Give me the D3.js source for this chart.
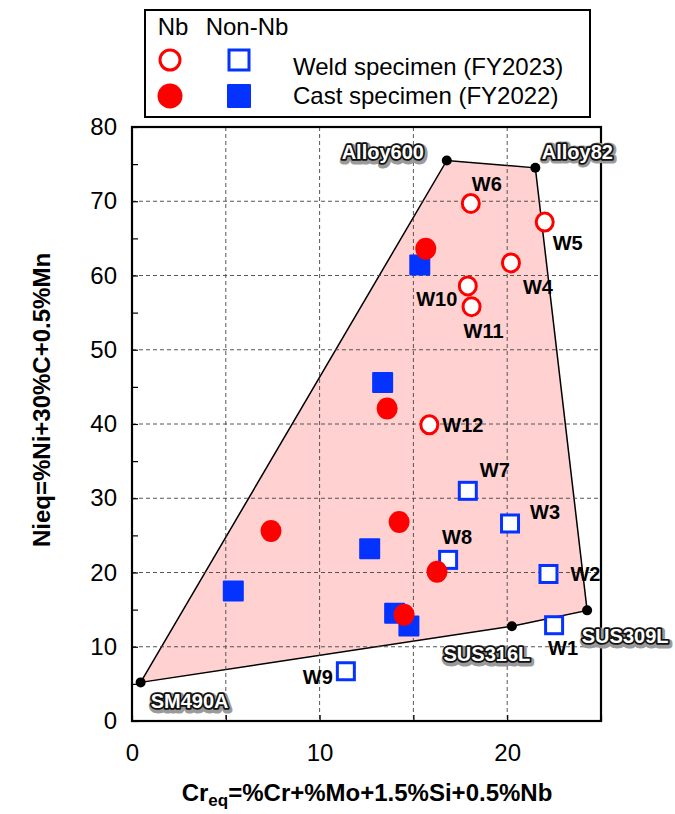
<!DOCTYPE html>
<html>
<head>
<meta charset="utf-8">
<script src="https://cdn.jsdelivr.net/npm/d3@7"></script>
<style>
  body { margin: 0; background: #fff; }
  text { font-family: "Liberation Sans", Arial, sans-serif; }
</style>
</head>
<body>
<script>
let width = 675;
let height = 814;
let svg = d3.select("body").append("svg")
                           .attr("width", width)
                           .attr("height", height);

// reference materials, polygon corners in drawing order
let refNames = ["SM490A", "Alloy600", "Alloy82", "SUS309L", "SUS316L"];
let refCr = [0.46, 16.78, 21.5, 24.26, 20.25];
let refNi = [5.2, 75.5, 74.5, 14.9, 12.76];
let refLabelDx = [49, -64, 42, 38, -25];
let refLabelDy = [26, -1, -9, 33, 35];

// weld specimens (FY2023), Nb bearing -> open circles
let weldNbNames = ["W4", "W5", "W6", "W10", "W11", "W12"];
let weldNbCr = [20.2, 22.0, 18.06, 17.9, 18.1, 15.85];
let weldNbNi = [61.7, 67.2, 69.7, 58.6, 55.8, 39.9];

// weld specimens (FY2023), non-Nb -> open squares
let weldNonNbNames = ["W1", "W2", "W3", "W7", "W8", "W9"];
let weldNonNbCr = [22.5, 22.2, 20.15, 17.9, 16.85, 11.4];
let weldNonNbNi = [12.9, 19.8, 26.6, 31.0, 21.7, 6.7];

// cast specimens (FY2022)
let castNbCr = [15.66, 13.6, 7.41, 14.24, 16.26, 14.5];
let castNbNi = [63.6, 42.1, 25.6, 26.8, 20.1, 14.3];
let castNonNbCr = [15.34, 13.36, 5.4, 12.67, 14.0, 14.76];
let castNonNbNi = [61.4, 45.6, 17.5, 23.2, 14.5, 12.8];

// label offsets (pixels) for the W labels
let wLabelOffsets = {
  W1: [9, 30], W2: [22, 7], W3: [20, -4], W4: [27, 31], W5: [23, 28], W6: [16, -12],
  W7: [27, -14], W8: [9, -16], W9: [-28, 13], W10: [-31, 20], W11: [12, 31], W12: [13, 7]
};
let wLabelAnchor = { W2: "start", W3: "start", W12: "start" };

let xTicks = [0, 10, 20];
let yTicks = [0, 10, 20, 30, 40, 50, 60, 70, 80];

let x = d3.scaleLinear().domain([0, 25]).range([132, 601]);
let y = d3.scaleLinear().domain([0, 80]).range([721, 127]);

let red = "#ff0000";
let blue = "#0433ff";

let refs = refNames.map((n, i) => ({ name: n, cr: refCr[i], ni: refNi[i], dx: refLabelDx[i], dy: refLabelDy[i] }));
let weldNb = weldNbNames.map((n, i) => ({ name: n, cr: weldNbCr[i], ni: weldNbNi[i] }));
let weldNonNb = weldNonNbNames.map((n, i) => ({ name: n, cr: weldNonNbCr[i], ni: weldNonNbNi[i] }));
let castNb = castNbCr.map((c, i) => ({ cr: c, ni: castNbNi[i] }));
let castNonNb = castNonNbCr.map((c, i) => ({ cr: c, ni: castNonNbNi[i] }));

// polygon region
svg.append("path")
   .datum(refs)
   .attr("d", d3.line().x(d => x(d.cr)).y(d => y(d.ni)).curve(d3.curveLinearClosed))
   .attr("fill", "#ffd1d1")
   .attr("stroke", "black")
   .attr("stroke-width", 1.5);

// grid
let grid = svg.append("g").attr("stroke", "#444").attr("stroke-width", 0.9).attr("stroke-dasharray", "4,3");
grid.selectAll(".gx").data([5, 10, 15, 20]).enter().append("line")
    .attr("x1", d => x(d)).attr("x2", d => x(d))
    .attr("y1", y(80)).attr("y2", y(0));
grid.selectAll(".gy").data([10, 20, 30, 40, 50, 60, 70]).enter().append("line")
    .attr("x1", x(0)).attr("x2", x(25))
    .attr("y1", d => y(d)).attr("y2", d => y(d));

// axes
let yAxis = d3.axisLeft(y)
              .tickValues(d3.range(0, 81, 5))
              .tickSize(-6)
              .tickPadding(15)
              .tickFormat(d => yTicks.includes(d) ? d : "");
let gy = svg.append("g").attr("transform", `translate(${x(0)},0)`).call(yAxis);

let xAxis = d3.axisBottom(x)
              .tickValues(d3.range(0, 26, 5))
              .tickSize(-6)
              .tickPadding(23)
              .tickFormat(d => xTicks.includes(d) ? d : "");
let gx = svg.append("g").attr("transform", `translate(0,${y(0)})`).call(xAxis);

[gx, gy].forEach(g => {
  g.select(".domain").remove();
  g.selectAll(".tick line").attr("stroke", "black").attr("stroke-width", 1.2);
  g.selectAll(".tick text").attr("font-size", 24).attr("fill", "black")
   .attr("font-family", "Liberation Sans, Arial, sans-serif");
});

// frame
svg.append("rect")
   .attr("x", x(0)).attr("y", y(80))
   .attr("width", x(25) - x(0)).attr("height", y(0) - y(80))
   .attr("fill", "none").attr("stroke", "black").attr("stroke-width", 2.2);

// reference dots
svg.selectAll(".refdot").data(refs).enter().append("circle")
   .attr("cx", d => x(d.cr)).attr("cy", d => y(d.ni))
   .attr("r", 5).attr("fill", "black");

// markers
svg.selectAll(".cns").data(castNonNb).enter().append("rect")
   .attr("x", d => x(d.cr) - 10.5).attr("y", d => y(d.ni) - 10.5)
   .attr("width", 21).attr("height", 21).attr("rx", 1)
   .attr("fill", blue);

svg.selectAll(".wns").data(weldNonNb).enter().append("rect")
   .attr("x", d => x(d.cr) - 8.5).attr("y", d => y(d.ni) - 8.5)
   .attr("width", 17).attr("height", 17)
   .attr("fill", "white").attr("stroke", blue).attr("stroke-width", 3);

svg.selectAll(".cnb").data(castNb).enter().append("ellipse")
   .attr("cx", d => x(d.cr)).attr("cy", d => y(d.ni))
   .attr("rx", 10.5).attr("ry", 11)
   .attr("fill", red);

svg.selectAll(".wnb").data(weldNb).enter().append("ellipse")
   .attr("cx", d => x(d.cr)).attr("cy", d => y(d.ni))
   .attr("rx", 8.5).attr("ry", 9)
   .attr("fill", "white").attr("stroke", red).attr("stroke-width", 3);

// W labels
svg.selectAll(".wlab").data(weldNb.concat(weldNonNb)).enter().append("text")
   .attr("x", d => x(d.cr) + wLabelOffsets[d.name][0])
   .attr("y", d => y(d.ni) + wLabelOffsets[d.name][1])
   .attr("text-anchor", d => wLabelAnchor[d.name] || "middle")
   .attr("font-size", 20).attr("font-weight", "bold")
   .text(d => d.name);

// reference labels: white text, black outline, grey halo
let refLab = svg.selectAll(".rlab").data(refs).enter().append("g")
   .attr("transform", d => `translate(${x(d.cr) + d.dx},${y(d.ni) + d.dy})`);
refLab.append("text")
   .attr("text-anchor", "middle").attr("font-size", 20).attr("font-weight", "bold")
   .attr("fill", "none").attr("stroke", "#9a9a9a").attr("stroke-width", 7)
   .attr("stroke-linejoin", "round").attr("transform", "translate(1,1.5)")
   .text(d => d.name);
refLab.append("text")
   .attr("text-anchor", "middle").attr("font-size", 20).attr("font-weight", "bold")
   .attr("fill", "white").attr("stroke", "#111").attr("stroke-width", 3.5)
   .attr("stroke-linejoin", "round").attr("paint-order", "stroke")
   .text(d => d.name);

// axis titles
let xTitle = svg.append("text")
   .attr("x", 367).attr("y", 801)
   .attr("text-anchor", "middle").attr("font-size", 24).attr("font-weight", "bold");
xTitle.append("tspan").text("Cr");
xTitle.append("tspan").attr("font-size", 17).attr("dy", 5).text("eq");
xTitle.append("tspan").attr("dy", -5).text("=%Cr+%Mo+1.5%Si+0.5%Nb");

svg.append("text")
   .attr("transform", "translate(50,400) rotate(-90)")
   .attr("text-anchor", "middle").attr("font-size", 24).attr("font-weight", "bold")
   .text("Nieq=%Ni+30%C+0.5%Mn");

// legend
let legend = svg.append("g");
legend.append("rect")
      .attr("x", 145).attr("y", 10).attr("width", 445).attr("height", 107)
      .attr("fill", "white").attr("stroke", "black").attr("stroke-width", 2);
legend.append("text").attr("x", 173).attr("y", 35).attr("text-anchor", "middle")
      .attr("font-size", 24).text("Nb");
legend.append("text").attr("x", 247).attr("y", 35).attr("text-anchor", "middle")
      .attr("font-size", 24).text("Non-Nb");
legend.append("circle").attr("cx", 170).attr("cy", 60).attr("r", 10)
      .attr("fill", "white").attr("stroke", red).attr("stroke-width", 3);
legend.append("rect").attr("x", 229).attr("y", 50).attr("width", 20).attr("height", 20)
      .attr("fill", "white").attr("stroke", blue).attr("stroke-width", 3);
legend.append("circle").attr("cx", 170).attr("cy", 96).attr("r", 12.5).attr("fill", red);
legend.append("rect").attr("x", 227).attr("y", 84).attr("width", 24).attr("height", 24)
      .attr("rx", 1).attr("fill", blue);
legend.append("text").attr("x", 293).attr("y", 75).attr("font-size", 24)
      .text("Weld specimen (FY2023)");
legend.append("text").attr("x", 293).attr("y", 104).attr("font-size", 24)
      .text("Cast specimen (FY2022)");
</script>
</body>
</html>
